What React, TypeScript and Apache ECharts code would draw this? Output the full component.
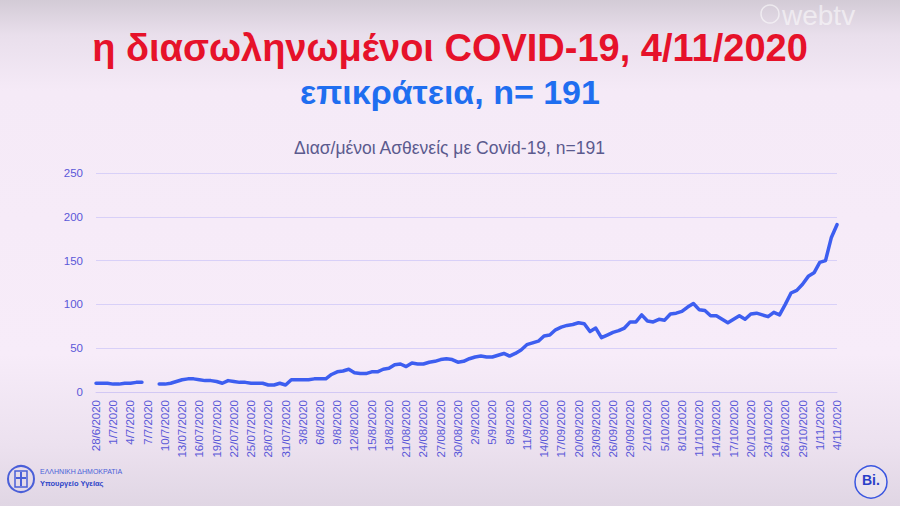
import React, { useEffect, useRef } from "react";
import * as echarts from "echarts";

const mainTitle = "η διασωληνωμένοι COVID-19, 4/11/2020";
const subTitle = "επικράτεια, n= 191";
const chartTitle = "Διασ/μένοι Ασθενείς με Covid-19, n=191";

const tickLabels = [
  "28/6/2020", "1/7/2020", "4/7/2020", "7/7/2020", "10/7/2020", "13/07/2020", "16/07/2020",
  "19/07/2020", "22/07/2020", "25/07/2020", "28/07/2020", "31/07/2020", "3/8/2020", "6/8/2020",
  "9/8/2020", "12/8/2020", "15/8/2020", "18/8/2020", "21/08/2020", "24/08/2020", "27/08/2020",
  "30/08/2020", "2/9/2020", "5/9/2020", "8/9/2020", "11/9/2020", "14/09/2020", "17/09/2020",
  "20/09/2020", "23/09/2020", "26/09/2020", "29/09/2020", "2/10/2020", "5/10/2020", "8/10/2020",
  "11/10/2020", "14/10/2020", "17/10/2020", "20/10/2020", "23/10/2020", "26/10/2020",
  "29/10/2020", "1/11/2020", "4/11/2020",
];

// daily intubated patients, 28/6/2020 .. 4/11/2020 (null = missing day)
const values: (number | null)[] = [
  10, 10, 10, 9, 9, 10, 10, 11, 11, null,
  null, 9, 9, 10, 12, 14, 15, 15, 14, 13,
  13, 12, 10, 13, 12, 11, 11, 10, 10, 10,
  8, 8, 10, 8, 14, 14, 14, 14, 15, 15,
  15, 20, 23, 24, 26, 22, 21, 21, 23, 23,
  26, 27, 31, 32, 29, 33, 32, 32, 34, 35,
  37, 38, 37, 34, 35, 38, 40, 41, 40, 40,
  42, 44, 41, 44, 48, 54, 56, 58, 64, 65,
  71, 74, 76, 77, 79, 78, 69, 73, 62, 65,
  68, 70, 73, 80, 80, 88, 81, 80, 83, 82,
  89, 90, 92, 97, 101, 94, 93, 87, 87, 83,
  79, 83, 87, 83, 89, 90, 88, 86, 91, 88,
  100, 113, 116, 123, 132, 136, 148, 150, 176, 191,
];

export default function App() {
  const ref = useRef<HTMLDivElement>(null);
  useEffect(() => {
    if (!ref.current) return;
    const chart = echarts.init(ref.current, null, { renderer: "svg" });
    const categories: string[] = [];
    for (let i = 0; i < values.length; i++) {
      const d = new Date(2020, 5, 28 + i);
      categories.push(`${d.getDate()}/${d.getMonth() + 1}/2020`);
    }
    const axisColor = "#5a58d8";
    chart.setOption({
      animation: false,
      backgroundColor: "transparent",
      grid: { left: 96, right: 63, top: 173, bottom: 114, containLabel: false },
      xAxis: {
        type: "category",
        data: categories,
        boundaryGap: false,
        axisLine: { show: true, lineStyle: { color: "#d2c8f4", width: 1 } },
        axisTick: { show: false },
        axisLabel: {
          interval: 2,
          rotate: 90,
          margin: 8,
          color: axisColor,
          fontSize: 11.5,
          fontFamily: "Liberation Sans, Arial, sans-serif",
          formatter: (_v: string, idx: number) => (idx % 3 === 0 ? tickLabels[idx / 3] ?? "" : ""),
        },
        splitLine: { show: false },
      },
      yAxis: {
        type: "value",
        min: 0,
        max: 250,
        interval: 50,
        axisLine: { show: false },
        axisTick: { show: false },
        axisLabel: {
          margin: 13,
          color: axisColor,
          fontSize: 11.5,
          fontFamily: "Liberation Sans, Arial, sans-serif",
        },
        splitLine: { show: true, lineStyle: { color: "#d8d0f8", width: 1 } },
      },
      series: [
        {
          type: "line",
          data: values,
          connectNulls: false,
          showSymbol: false,
          symbol: "none",
          lineStyle: { color: "#3d5ef0", width: 3.5, join: "round", cap: "round" },
          itemStyle: { color: "#3d5ef0" },
        },
      ],
      graphic: [
        {
          type: "text",
          left: 782,
          top: 1,
          style: {
            text: "webtv",
            fill: "rgba(255,255,255,0.55)",
            font: "28px 'Liberation Sans', Arial, sans-serif",
          },
        },
        {
          type: "circle",
          shape: { cx: 770, cy: 14, r: 9 },
          style: { fill: "none", stroke: "rgba(255,255,255,0.55)", lineWidth: 1.5 },
        },
        {
          type: "text",
          left: "center",
          top: 29,
          style: {
            text: mainTitle,
            fill: "#e6122a",
            font: "bold 38px 'Liberation Sans', Arial, sans-serif",
          },
        },
        {
          type: "text",
          left: "center",
          top: 75,
          style: {
            text: subTitle,
            fill: "#1f6ef0",
            font: "bold 34px 'Liberation Sans', Arial, sans-serif",
          },
        },
        {
          type: "text",
          left: "center",
          top: 139,
          style: {
            text: chartTitle,
            fill: "#5b5a8e",
            font: "17.5px 'Liberation Sans', Arial, sans-serif",
          },
        },
        {
          type: "circle",
          shape: { cx: 21, cy: 479, r: 13 },
          style: { fill: "none", stroke: "#4a5fd8", lineWidth: 2 },
        },
        {
          type: "rect",
          shape: { x: 15, y: 471, width: 12, height: 16 },
          style: { fill: "none", stroke: "#4a5fd8", lineWidth: 1.5 },
        },
        {
          type: "line",
          shape: { x1: 21, y1: 472, x2: 21, y2: 486 },
          style: { stroke: "#4a5fd8", lineWidth: 2 },
        },
        {
          type: "line",
          shape: { x1: 16, y1: 478, x2: 26, y2: 478 },
          style: { stroke: "#4a5fd8", lineWidth: 2 },
        },
        {
          type: "text",
          left: 40,
          top: 468,
          style: {
            text: "ΕΛΛΗΝΙΚΗ ΔΗΜΟΚΡΑΤΙΑ",
            fill: "#4a5fd8",
            font: "7px 'Liberation Sans', Arial, sans-serif",
          },
        },
        {
          type: "text",
          left: 40,
          top: 479,
          style: {
            text: "Υπουργείο Υγείας",
            fill: "#2f46c8",
            font: "bold 7.5px 'Liberation Sans', Arial, sans-serif",
          },
        },
        {
          type: "circle",
          shape: { cx: 871, cy: 482, r: 16 },
          style: { fill: "rgba(255,255,255,0.25)", stroke: "#3a56e0", lineWidth: 1.5 },
        },
        {
          type: "text",
          left: 862,
          top: 473,
          style: {
            text: "Bi.",
            fill: "#2a3fc8",
            font: "bold 14px 'Liberation Sans', Arial, sans-serif",
          },
        },
      ],
    });
    return () => chart.dispose();
  }, []);

  return (
    <div
      style={{
        position: "fixed",
        left: 0,
        top: 0,
        width: 900,
        height: 506,
        background:
          "linear-gradient(180deg, #d3cbd6 0%, #e9dfec 7%, #f5eaf7 18%, #f7ecf9 70%, #ece1ef 88%, #e0d6e4 100%)",
      }}
    >
      <div ref={ref} style={{ width: 900, height: 506 }} />
    </div>
  );
}
